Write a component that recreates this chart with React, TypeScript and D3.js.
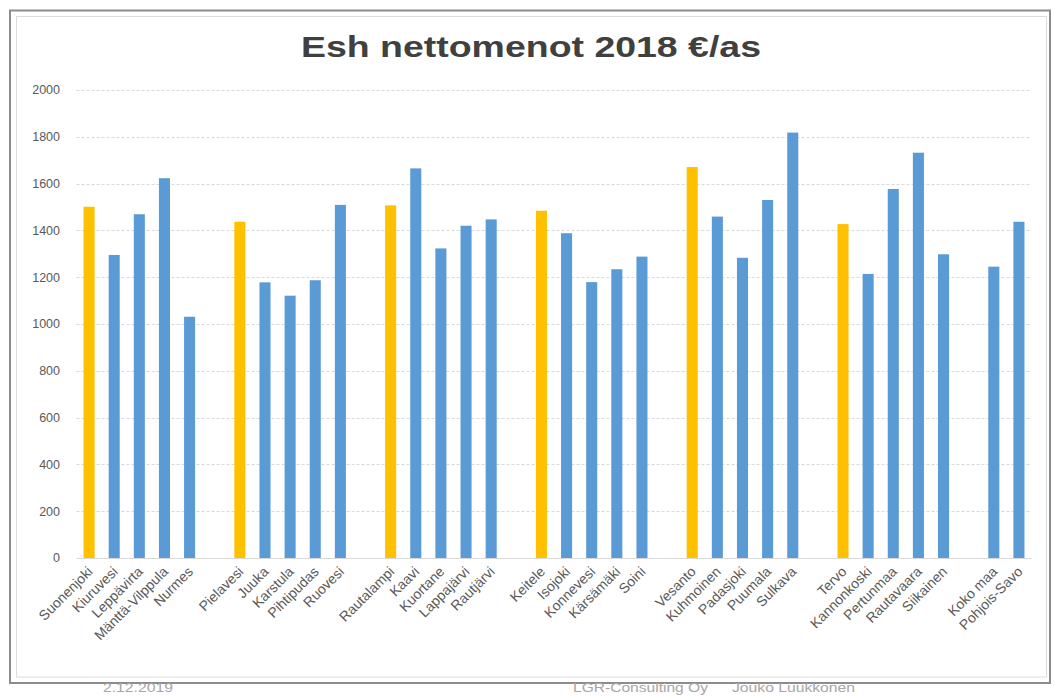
import React from "react";
import * as d3 from "d3";

const categories: string[] = [
  "Suonenjoki", "Kiuruvesi", "Leppävirta", "Mänttä-Vilppula", "Nurmes", "",
  "Pielavesi", "Juuka", "Karstula", "Pihtipudas", "Ruovesi", "",
  "Rautalampi", "Kaavi", "Kuortane", "Lappajärvi", "Rautjärvi", "",
  "Keitele", "Isojoki", "Konnevesi", "Kärsämäki", "Soini", "",
  "Vesanto", "Kuhmoinen", "Padasjoki", "Puumala", "Sulkava", "",
  "Tervo", "Kannonkoski", "Pertunmaa", "Rautavaara", "Siikainen", "",
  "Koko maa", "Pohjois-Savo",
];

const values: (number | null)[] = [
  1501, 1295, 1469, 1623, 1031, null,
  1437, 1178, 1121, 1187, 1509, null,
  1507, 1665, 1323, 1420, 1447, null,
  1484, 1388, 1179, 1234, 1288, null,
  1671, 1459, 1283, 1530, 1818, null,
  1427, 1214, 1577, 1732, 1298, null,
  1245, 1437,
];

const highlighted: string[] = ["Suonenjoki", "Pielavesi", "Rautalampi", "Keitele", "Vesanto", "Tervo"];

const yTicks: number[] = [0, 200, 400, 600, 800, 1000, 1200, 1400, 1600, 1800, 2000];

const title = "Esh nettomenot 2018 €/as";
const footerDate = "2.12.2019";
const footerCompany = "LGR-Consulting Oy";
const footerAuthor = "Jouko Luukkonen";

const W = 1055;
const H = 696;
const plotLeft = 76.5;
const plotRight = 1031.5;
const plotTop = 90;
const plotBottom = 558;

export default function App() {
  const keys = categories.map((_, i) => String(i));
  const x = d3
    .scaleBand<string>()
    .domain(keys)
    .range([plotLeft, plotRight])
    .paddingInner(0.56)
    .paddingOuter(0.28);
  const y = d3.scaleLinear().domain([0, 2000]).range([plotBottom, plotTop]);

  const font = "'Liberation Sans', Arial, sans-serif";

  return (
    <svg
      width={W}
      height={H}
      style={{ position: "absolute", left: 0, top: 0, display: "block", background: "#fff" }}
    >
      <rect x={0} y={0} width={W} height={H} fill="#fff" />
      {/* frames */}
      <rect x={10} y={10.5} width={1040} height={672.5} fill="none" stroke="#8c8c8c" strokeWidth={2} />
      <rect x={16.5} y={16.5} width={1030} height={660.5} fill="none" stroke="#dcdcdc" strokeWidth={1} />

      {/* title */}
      <text
        x={531}
        y={57}
        textAnchor="middle"
        fontFamily={font}
        fontWeight="bold"
        fontSize={29}
        fill="#404040"
        textLength={460}
        lengthAdjust="spacingAndGlyphs"
      >
        {title}
      </text>

      {/* gridlines */}
      {yTicks.map((t) => (
        <g key={t}>
          {t !== 0 && (
            <line
              x1={plotLeft}
              x2={plotRight}
              y1={Math.round(y(t)) + 0.5}
              y2={Math.round(y(t)) + 0.5}
              stroke="#d9d9d9"
              strokeDasharray="3,2"
            />
          )}
          <text
            x={60}
            y={y(t)}
            dy="0.35em"
            textAnchor="end"
            fontFamily={font}
            fontSize={12.5}
            fill="#595959"
          >
            {t}
          </text>
        </g>
      ))}

      {/* bars */}
      {values.map((v, i) =>
        v == null ? null : (
          <rect
            key={i}
            x={x(String(i))}
            y={y(v)}
            width={x.bandwidth()}
            height={y(0) - y(v)}
            fill={highlighted.includes(categories[i]) ? "#FFC000" : "#5B9BD5"}
          />
        )
      )}

      {/* axis line */}
      <line x1={plotLeft} x2={plotRight} y1={plotBottom + 0.5} y2={plotBottom + 0.5} stroke="#d9d9d9" />

      {/* x labels */}
      {categories.map((c, i) => {
        if (!c) return null;
        const cx = (x(String(i)) as number) + x.bandwidth() / 2 + 1;
        const ty = plotBottom + 11;
        return (
          <text
            key={i}
            transform={`translate(${cx},${ty}) rotate(-45)`}
            textAnchor="end"
            dy="0.35em"
            fontFamily={font}
            fontSize={14}
            fill="#595959"
          >
            {c}
          </text>
        );
      })}

      {/* footer */}
      <text x={103} y={692} fontFamily={font} fontSize={13.5} fill="#a6a6a6" textLength={70} lengthAdjust="spacingAndGlyphs">
        {footerDate}
      </text>
      <text x={573} y={692} fontFamily={font} fontSize={13.5} fill="#a6a6a6" textLength={135} lengthAdjust="spacingAndGlyphs">
        {footerCompany}
      </text>
      <text x={732} y={692} fontFamily={font} fontSize={13.5} fill="#a6a6a6" textLength={123} lengthAdjust="spacingAndGlyphs">
        {footerAuthor}
      </text>
    </svg>
  );
}
